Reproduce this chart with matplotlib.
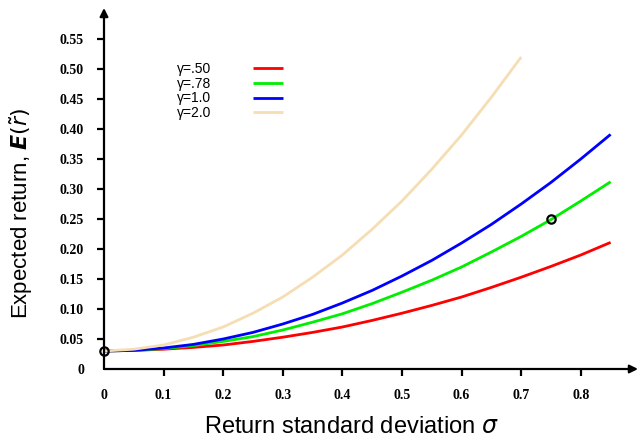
import numpy as np
import matplotlib
matplotlib.use("Agg")
import matplotlib.pyplot as plt

# values
sigma = [0.0, 0.05, 0.1, 0.15, 0.2, 0.25, 0.3, 0.35, 0.4, 0.45, 0.5,
         0.55, 0.6, 0.65, 0.7, 0.75, 0.8, 0.85]
ret_g050 = [0.030, 0.031, 0.033, 0.036, 0.040, 0.046, 0.053, 0.061, 0.070,
            0.081, 0.093, 0.106, 0.120, 0.136, 0.153, 0.171, 0.190, 0.211]
ret_g078 = [0.030, 0.031, 0.034, 0.039, 0.046, 0.054, 0.065, 0.078, 0.092,
            0.109, 0.128, 0.148, 0.170, 0.195, 0.221, 0.249, 0.280, 0.312]
ret_g100 = [0.030, 0.031, 0.035, 0.041, 0.050, 0.061, 0.075, 0.091, 0.110,
            0.131, 0.155, 0.181, 0.210, 0.241, 0.275, 0.311, 0.350, 0.391]
ret_g200 = [0.030, 0.033, 0.040, 0.053, 0.070, 0.093, 0.120, 0.153, 0.190,
            0.233, 0.280, 0.333, 0.390, 0.453, 0.520]
labels = ["γ=.50", "γ=.78", "γ=1.0", "γ=2.0"]
colors = ["#ff0000", "#00ee00", "#0000ff", "#f5deb3"]

pts_x = [0.0, 0.75]
pts_y = [0.03, 0.25]

xticks = [0.0, 0.1, 0.2, 0.3, 0.4, 0.5, 0.6, 0.7, 0.8]
yticks = [0.0, 0.05, 0.10, 0.15, 0.20, 0.25, 0.30, 0.35, 0.40, 0.45, 0.50, 0.55]

fig = plt.figure(figsize=(6.39, 4.40), dpi=100)
ax = fig.add_axes([104 / 639, 1 - 369 / 440, (638 - 104) / 639, (369 - 8) / 440])
ax.set_xlim(0, (638 - 104) / 596.0)
ax.set_ylim(0, (369 - 8) / 600.0)

series = [(sigma, ret_g050), (sigma, ret_g078), (sigma, ret_g100),
          (sigma[:len(ret_g200)], ret_g200)]
for (xs, ys), lab, c in zip(series, labels, colors):
    ax.plot(xs, ys, color=c, lw=2.0, label=lab, solid_capstyle="butt")

ax.plot(pts_x, pts_y, "o", ms=6, mfc="none", mec="black", mew=1.6,
        clip_on=False, zorder=5)

for s in ax.spines.values():
    s.set_visible(False)
for end in [(1, 0), (0, 1)]:
    ax.annotate("", xy=end, xytext=(0, 0), xycoords="axes fraction",
                arrowprops=dict(arrowstyle="-|>", color="black", lw=1.6,
                                mutation_scale=12, shrinkA=0, shrinkB=0))

tick_font = dict(family="Liberation Serif", weight="bold", size=10)
ax.set_xticks(xticks)
ax.set_xticklabels(["0"] + [f"{t:.1f}" for t in xticks[1:]], fontdict=tick_font)
ax.set_yticks(yticks)
ax.set_yticklabels(["0"] + [f"{t:.2f}" for t in yticks[1:]], fontdict=tick_font)
ax.tick_params(axis="x", direction="out", length=5, width=1.6, pad=9.5)
ax.tick_params(axis="y", direction="out", length=5, width=1.6, pad=9.4)
ax.xaxis.get_major_ticks()[0].tick1line.set_visible(False)
ax.yaxis.get_major_ticks()[0].tick1line.set_visible(False)

ax.set_xlabel(r"Return standard deviation $\sigma$", fontsize=17,
              family="Liberation Sans")
ax.xaxis.set_label_coords(0.464, -0.13)
ax.set_ylabel(r"Expected return, $\boldsymbol{E}(\tilde{r})$", fontsize=16,
              family="Liberation Sans")
ax.yaxis.set_label_coords(-0.13, 0.43)

ax.legend(loc="upper left", bbox_to_anchor=(0.113, 0.885), frameon=False,
          markerfirst=False, handlelength=2.2, handletextpad=3.0,
          labelspacing=0.05, prop=dict(family="Liberation Sans", size=10))

fig.savefig("out.png", dpi=100)
